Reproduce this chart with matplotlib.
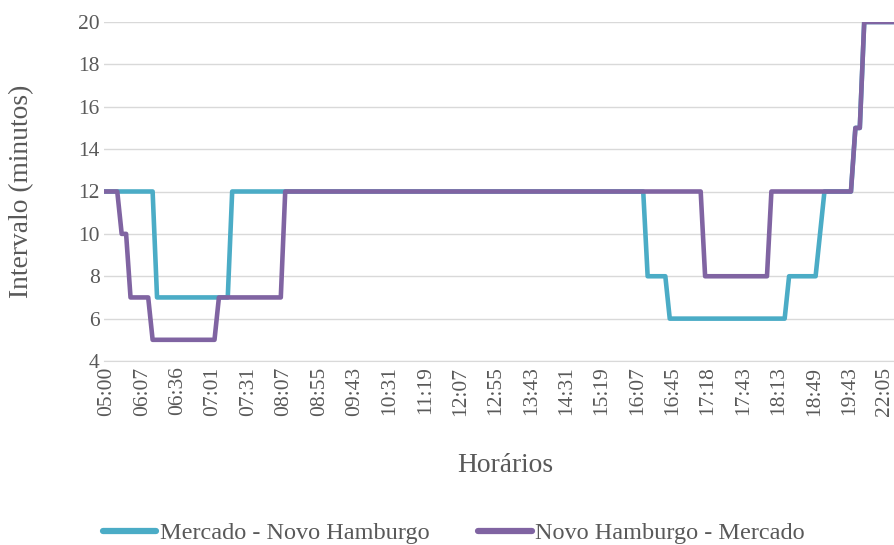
import numpy as np
import matplotlib
matplotlib.use("Agg")
import matplotlib.pyplot as plt
import matplotlib.transforms as mtransforms
from matplotlib.lines import Line2D

plt.rcParams['font.family'] = ['Liberation Serif', 'DejaVu Serif']

# Rótulos visíveis do eixo (um a cada 8 horários da tabela)
tick_labels = ["05:00", "06:07", "06:36", "07:01", "07:31", "08:07", "08:55",
               "09:43", "10:31", "11:19", "12:07", "12:55", "13:43", "14:31",
               "15:19", "16:07", "16:45", "17:18", "17:43", "18:13", "18:49",
               "19:43", "22:05"]
label_step = 8

# Intervalos (minutos) em sequência: (valor, nº de horários consecutivos)
mercado_nh_runs = [(12, 12), (7, 17), (12, 94), (8, 5), (6, 27), (8, 7),
                   (10, 1), (12, 7), (15, 2), (20, 10)]
nh_mercado_runs = [(12, 4), (10, 2), (7, 5), (5, 15), (7, 15), (12, 95),
                   (8, 15), (12, 19), (15, 2), (20, 10)]

serie_names = ["Mercado - Novo Hamburgo", "Novo Hamburgo - Mercado"]
serie_colors = ["#4BACC6", "#8064A2"]


def expand(runs):
    vals, counts = zip(*runs)
    return np.repeat(vals, counts)


mercado_nh = expand(mercado_nh_runs)
nh_mercado = expand(nh_mercado_runs)
x = np.arange(len(mercado_nh))

W, H = 894, 545
fig = plt.figure(figsize=(W / 100, H / 100), dpi=100)
x_left, x_right = 104, 904
y_top, y_bot = 22, 361
ax = fig.add_axes([x_left / W, 1 - y_bot / H, (x_right - x_left) / W, (y_bot - y_top) / H])

grey_txt = "#595959"
fs_tick = 15.5
fs_title = 19.8
fs_leg = 17.5

for vals, name, col in zip([mercado_nh, nh_mercado], serie_names, serie_colors):
    ax.plot(x, vals, color=col, lw=3.3, solid_joinstyle='round',
            solid_capstyle='butt', label=name, zorder=3)

ax.set_xlim(0, len(x) - 1)
ax.set_ylim(4, 20)
ax.set_yticks(np.arange(4, 21, 2))
ax.set_xticks(np.arange(len(tick_labels)) * label_step)
ax.set_xticklabels(tick_labels, rotation=90, va='top', ha='center')
ax.grid(axis='y', color='#d9d9d9', lw=1, zorder=0)
for s in ['top', 'right', 'left']:
    ax.spines[s].set_visible(False)
ax.spines['bottom'].set_color('#d9d9d9')
ax.tick_params(axis='both', length=0, labelsize=fs_tick, labelcolor=grey_txt)
ax.tick_params(axis='y', pad=3)
ax.tick_params(axis='x', pad=4)

# desloca levemente os rótulos de horário para a direita
shift = mtransforms.ScaledTranslation(3 / 100, 0, fig.dpi_scale_trans)
for lbl in ax.get_xticklabels():
    lbl.set_transform(lbl.get_transform() + shift)

fig.text(22 / W, 1 - 191 / H, "Intervalo (minutos)", rotation=90,
         ha='center', va='center', fontsize=fs_title, color=grey_txt)
fig.text(505 / W, 1 - 465 / H, "Horários", ha='center', va='center',
         fontsize=fs_title, color=grey_txt)

handles = [Line2D([0], [0], color=c, lw=4.5, solid_capstyle='round') for c in serie_colors]
fig.legend(handles, serie_names, loc='center', bbox_to_anchor=(454 / W, 1 - 533 / H),
           ncol=2, frameon=False, handlelength=2.2, handletextpad=0.15,
           columnspacing=2.0, fontsize=fs_leg, labelcolor=grey_txt)

fig.savefig("out.png", dpi=100)
